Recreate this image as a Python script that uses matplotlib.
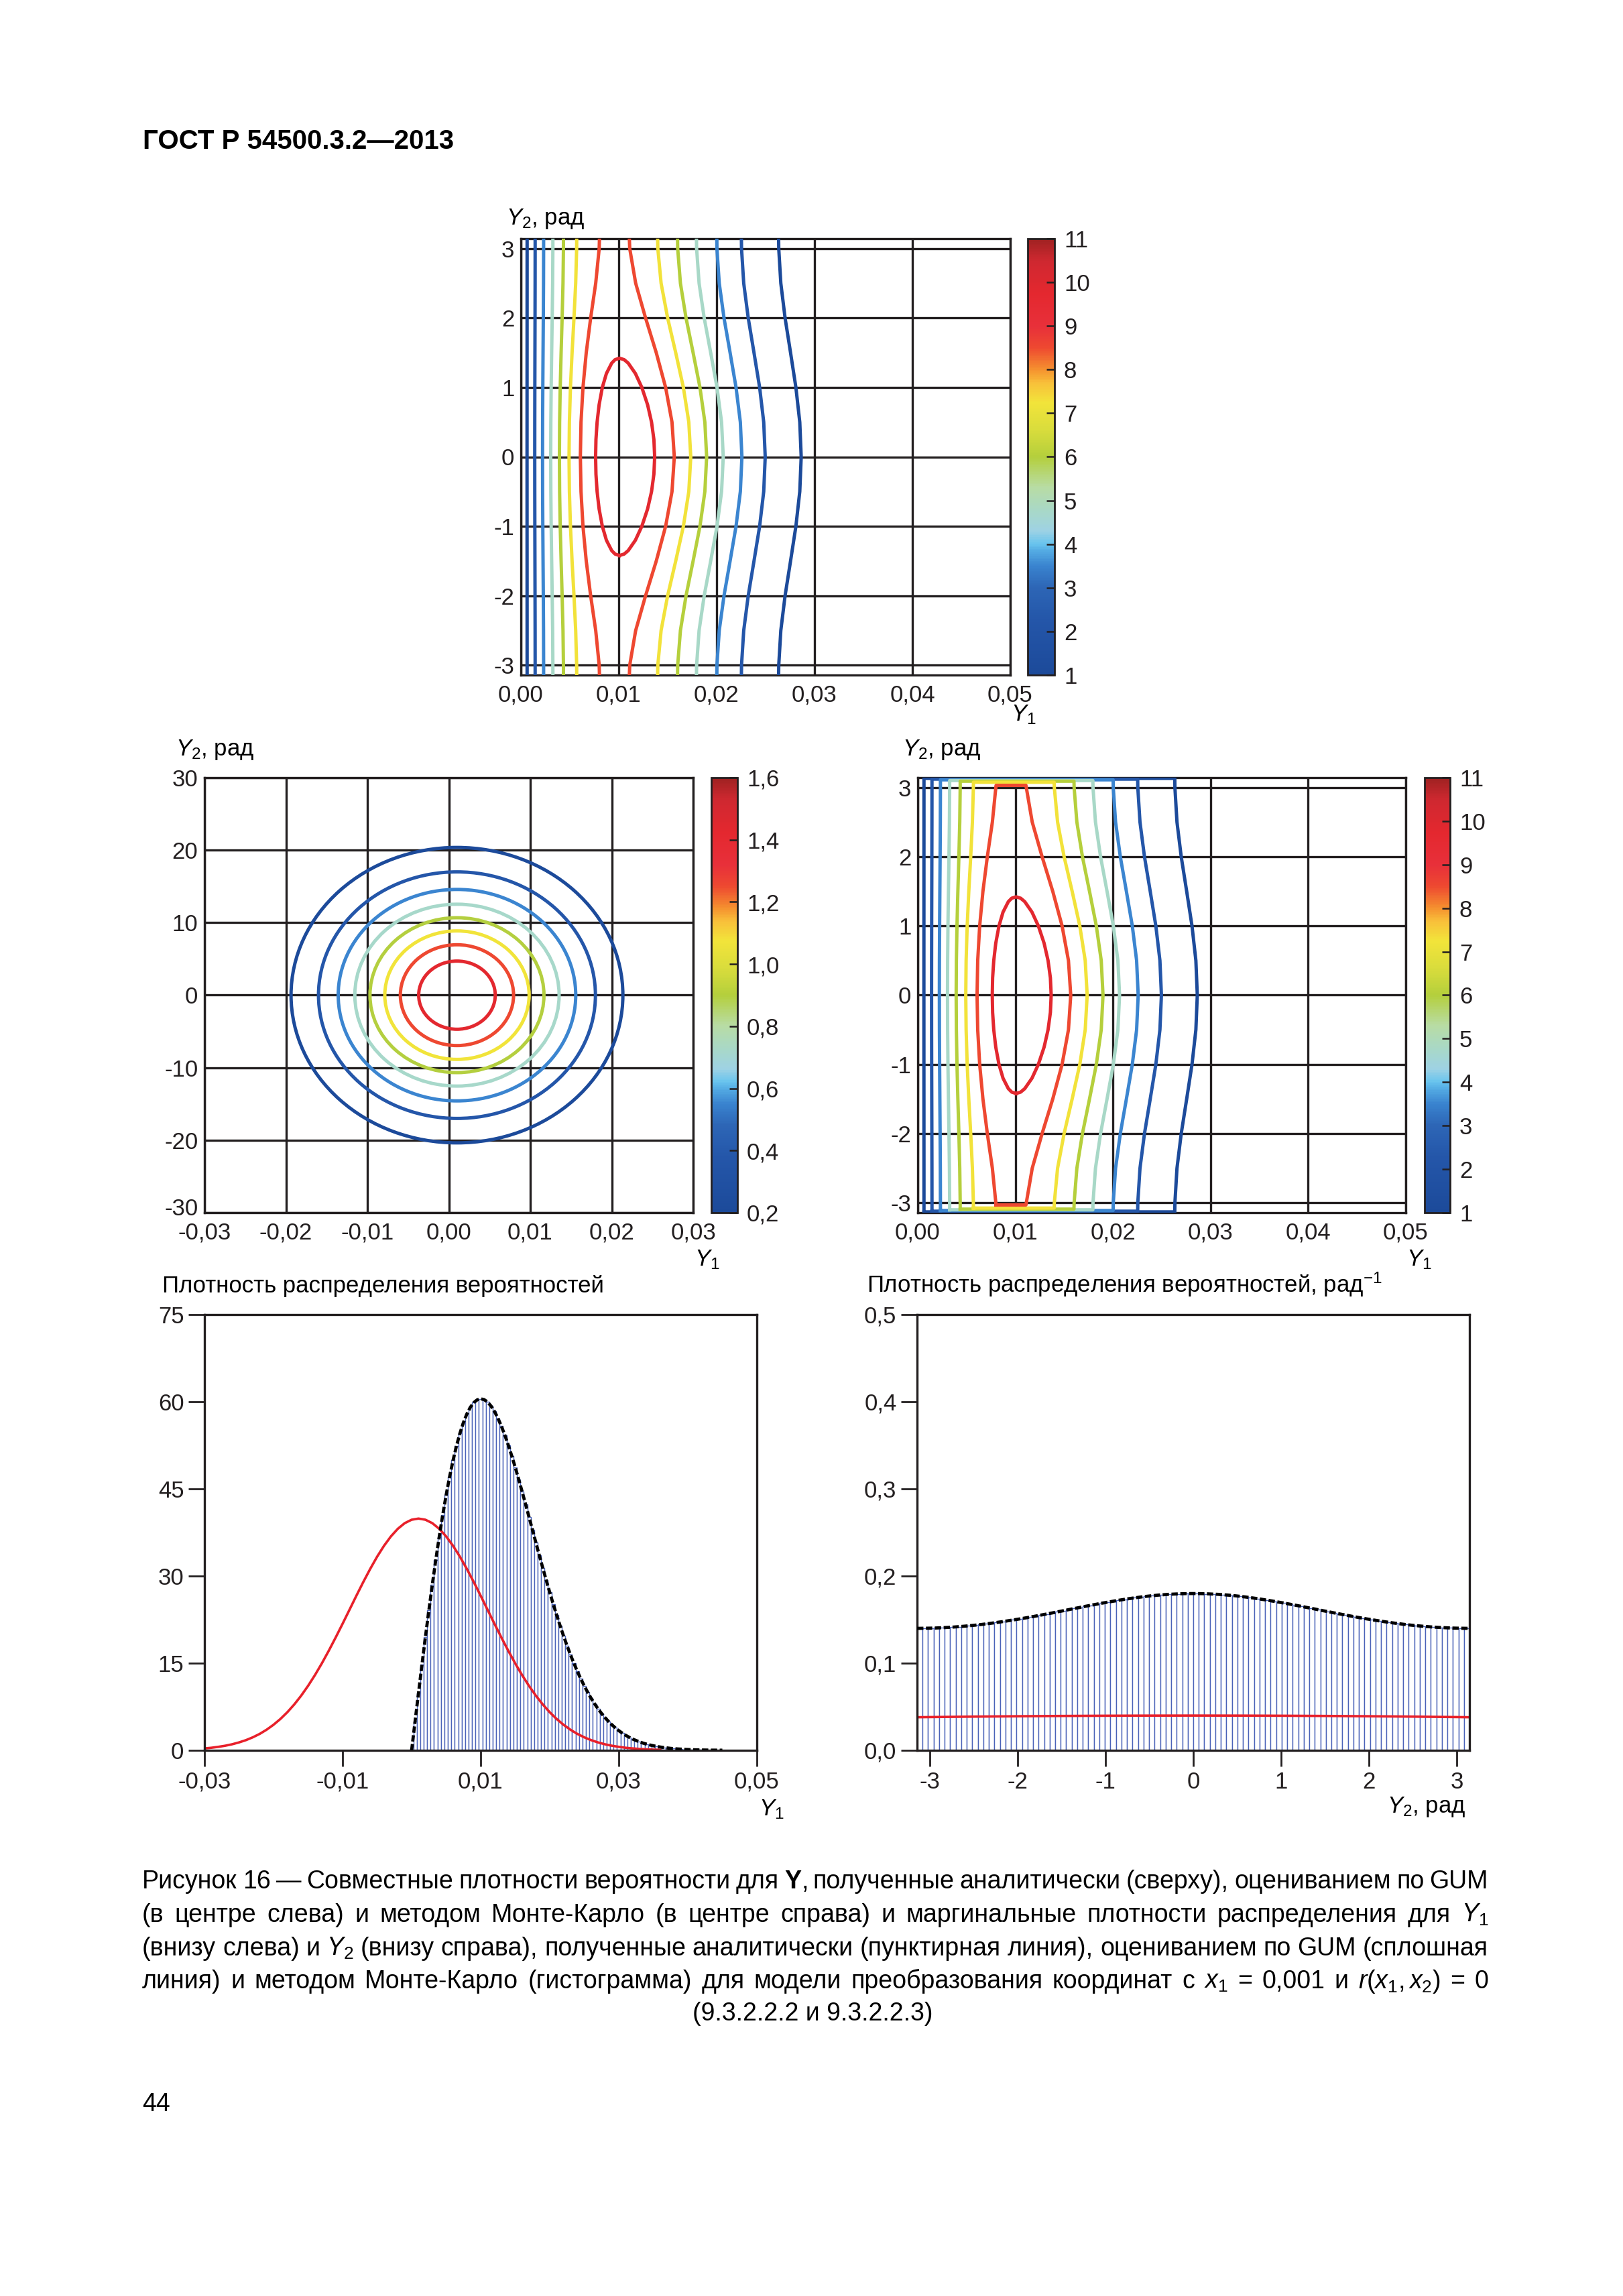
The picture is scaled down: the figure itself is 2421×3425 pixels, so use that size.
import numpy as np
import matplotlib
matplotlib.use("Agg")
import matplotlib.pyplot as plt
import matplotlib.transforms as mtransforms
from matplotlib.colors import LinearSegmentedColormap, Normalize
from matplotlib.cm import ScalarMappable
from matplotlib.patches import Ellipse

plt.rcParams['font.family'] = ['Liberation Sans', 'DejaVu Sans']
plt.rcParams['mathtext.fontset'] = 'custom'
plt.rcParams['mathtext.rm'] = 'Liberation Sans'
plt.rcParams['mathtext.it'] = 'Liberation Sans:italic'
plt.rcParams['mathtext.bf'] = 'Liberation Sans:bold'

W, H = 2421, 3425
INK = '#231f20'

# ---------------- data read from the page ----------------
# joint analytic pdf (top) and Monte Carlo pdf (middle right): contour lines Y1(Y2) for Y2 >= 0
theta_half = [0.0, 0.5, 1.0, 1.5, 2.0, 2.5, 3.0, 3.1416]
levels_top = [1.0, 2.25, 3.5, 4.75, 6.0, 7.25, 8.5]
left_x = [
    [0.000629, 0.000630, 0.000631, 0.000633, 0.000634, 0.000636, 0.000637, 0.000637],
    [0.001415, 0.001418, 0.001425, 0.001435, 0.001445, 0.001453, 0.001457, 0.001457],
    [0.002214, 0.002220, 0.002239, 0.002264, 0.002291, 0.002312, 0.002322, 0.002323],
    [0.003048, 0.003060, 0.003094, 0.003144, 0.003199, 0.003245, 0.003268, 0.003269],
    [0.003936, 0.003957, 0.004019, 0.004110, 0.004214, 0.004302, 0.004348, 0.004350],
    [0.004919, 0.004956, 0.005064, 0.005230, 0.005425, 0.005599, 0.005698, 0.005703],
    [0.006076, 0.006143, 0.006344, 0.006678, 0.007129, 0.007645, 0.008000, 0.008027],
]
right_x = [
    [0.028639, 0.028494, 0.028097, 0.027551, 0.026992, 0.026557, 0.026345, 0.026333],
    [0.024963, 0.024810, 0.024392, 0.023816, 0.023227, 0.022767, 0.022543, 0.022531],
    [0.022583, 0.022422, 0.021981, 0.021374, 0.020752, 0.020266, 0.020029, 0.020017],
    [0.020675, 0.020504, 0.020037, 0.019391, 0.018728, 0.018207, 0.017953, 0.017940],
    [0.018979, 0.018797, 0.018294, 0.017595, 0.016872, 0.016300, 0.016020, 0.016005],
    [0.017357, 0.017156, 0.016601, 0.015818, 0.014993, 0.014325, 0.013990, 0.013972],
    [0.015674, 0.015439, 0.014787, 0.013830, 0.012737, 0.011727, 0.011120, 0.011082],
]
inner_level = 9.75
inner_theta = [0.0, 0.25, 0.5, 0.75, 1.0, 1.2, 1.35, 1.40, 1.42]
inner_left = [0.007634, 0.007670, 0.007787, 0.007992, 0.008322, 0.008738, 0.009280, 0.009627, 0.010075]
inner_right = [0.013669, 0.013589, 0.013349, 0.012945, 0.012355, 0.011700, 0.010963, 0.010543, 0.010075]
mc_close = [3.13, 3.12, 3.11, 3.10, 3.09, 3.075, 3.03]

# GUM joint pdf (middle left): ellipses, radii in standard uncertainties
gum_center = (0.001, 0.0)
gum_u = (0.01, 10.0)
gum_levels = [0.2, 0.375, 0.55, 0.725, 0.9, 1.075, 1.25, 1.425]
gum_rho = [2.037, 1.700, 1.458, 1.254, 1.068, 0.886, 0.695, 0.470]

# marginal pdf of Y1 (bottom left)
y1_grid = np.round(np.arange(0, 0.04501, 0.0005), 4)
y1_pdf = [0.00, 4.97, 9.90, 14.76, 19.50, 24.11, 28.54, 32.77, 36.75, 40.48,
          43.93, 47.08, 49.91, 52.41, 54.58, 56.41, 57.89, 59.04, 59.85, 60.33,
          60.50, 60.37, 59.95, 59.26, 58.33, 57.16, 55.79, 54.25, 52.53, 50.69,
          48.73, 46.67, 44.55, 42.37, 40.17, 37.95, 35.73, 33.53, 31.37, 29.26,
          27.20, 25.21, 23.29, 21.46, 19.70, 18.04, 16.46, 14.99, 13.60, 12.30,
          11.10, 9.99, 8.95, 8.01, 7.14, 6.36, 5.64, 4.99, 4.40, 3.87,
          3.39, 2.97, 2.59, 2.25, 1.95, 1.69, 1.46, 1.25, 1.08, 0.92,
          0.79, 0.67, 0.57, 0.48, 0.41, 0.34, 0.29, 0.24, 0.21, 0.17,
          0.14, 0.11, 0.09, 0.07, 0.06, 0.05, 0.04, 0.03, 0.03, 0.02, 0.02]
y1_gum_x = np.round(np.arange(-0.030, 0.0365, 0.001), 3)
y1_gum = [0.33, 0.44, 0.60, 0.79, 1.04, 1.36, 1.75, 2.24, 2.83, 3.55,
          4.40, 5.40, 6.56, 7.89, 9.40, 11.09, 12.95, 14.97, 17.14, 19.42,
          21.78, 24.19, 26.61, 28.97, 31.22, 33.32, 35.20, 36.82, 38.13, 39.10,
          39.69, 39.89, 39.69, 39.10, 38.13, 36.82, 35.20, 33.32, 31.22, 28.97,
          26.61, 24.19, 21.78, 19.42, 17.14, 14.97, 12.95, 11.09, 9.40, 7.89,
          6.56, 5.40, 4.40, 3.55, 2.83, 2.24, 1.75, 1.36, 1.04, 0.79,
          0.60, 0.44, 0.33, 0.24, 0.17, 0.12, 0.09]

# marginal pdf of Y2 (bottom right), 100 histogram bins, right half listed
y2_half = [0.1799, 0.1798, 0.1796, 0.1793, 0.1790, 0.1785, 0.1780, 0.1774, 0.1767, 0.1759,
           0.1751, 0.1742, 0.1732, 0.1722, 0.1711, 0.1700, 0.1689, 0.1677, 0.1665, 0.1653,
           0.1640, 0.1628, 0.1615, 0.1602, 0.1590, 0.1577, 0.1565, 0.1553, 0.1541, 0.1529,
           0.1518, 0.1507, 0.1497, 0.1487, 0.1477, 0.1468, 0.1459, 0.1451, 0.1443, 0.1436,
           0.1430, 0.1424, 0.1419, 0.1414, 0.1410, 0.1407, 0.1404, 0.1402, 0.1401, 0.1400]
y2_pdf = y2_half[::-1] + y2_half
y2_centers = np.linspace(-np.pi + np.pi / 100, np.pi - np.pi / 100, 100)
y2_gum_x = [-3.1416, -3.0, -2.5, -2.0, -1.5, -1.0, -0.5, 0.0, 0.5, 1.0, 1.5, 2.0, 2.5, 3.0, 3.1416]
y2_gum = [0.03797, 0.03814, 0.03867, 0.03910, 0.03945, 0.03970, 0.03984, 0.03989,
          0.03984, 0.03970, 0.03945, 0.03910, 0.03867, 0.03814, 0.03797]

# tick labels
t01_ticks = [0.0, 0.01, 0.02, 0.03, 0.04, 0.05]
t01_labels = ['0,00', '0,01', '0,02', '0,03', '0,04', '0,05']
rad_ticks = [-3, -2, -1, 0, 1, 2, 3]
rad_labels = ['-3', '-2', '-1', '0', '1', '2', '3']
gx_ticks = [-0.03, -0.02, -0.01, 0.0, 0.01, 0.02, 0.03]
gx_labels = ['-0,03', '-0,02', '-0,01', '0,00', '0,01', '0,02', '0,03']
gy_ticks = [-30, -20, -10, 0, 10, 20, 30]
gy_labels = ['-30', '-20', '-10', '0', '10', '20', '30']
cb_ticks = list(range(1, 12))
cb_labels = [str(v) for v in cb_ticks]
gcb_ticks = [0.2, 0.4, 0.6, 0.8, 1.0, 1.2, 1.4, 1.6]
gcb_labels = ['0,2', '0,4', '0,6', '0,8', '1,0', '1,2', '1,4', '1,6']
m1x_ticks = [-0.03, -0.01, 0.01, 0.03, 0.05]
m1x_labels = ['-0,03', '-0,01', '0,01', '0,03', '0,05']
m1y_ticks = [0, 15, 30, 45, 60, 75]
m1y_labels = ['0', '15', '30', '45', '60', '75']
m2y_ticks = [0.0, 0.1, 0.2, 0.3, 0.4, 0.5]
m2y_labels = ['0,0', '0,1', '0,2', '0,3', '0,4', '0,5']

cmap = LinearSegmentedColormap.from_list('gost', [
    (0.00, '#1c4a9a'), (0.125, '#2456a9'), (0.20, '#2d66b6'), (0.25, '#3a84cf'),
    (0.285, '#55ade4'), (0.30, '#68c4ee'), (0.33, '#9ed2e4'), (0.375, '#a8d8c8'),
    (0.43, '#b8dca4'), (0.50, '#b4cf3c'), (0.56, '#d8dc3c'), (0.625, '#f2e43a'),
    (0.67, '#f8c03a'), (0.70, '#f5922f'), (0.75, '#ee4a30'), (0.80, '#e8303a'),
    (0.875, '#e4282f'), (0.95, '#cf2830'), (1.00, '#a02222')])

FS = 25
LW = 3.6
fig = plt.figure(figsize=(W / 100, H / 100), dpi=100)


def place(x0, y0, x1, y1):
    return fig.add_axes([x0 / W, 1 - y1 / H, (x1 - x0) / W, (y1 - y0) / H])


def ftext(x, y, s, **kw):
    kw.setdefault('fontsize', FS)
    kw.setdefault('va', 'baseline')
    return fig.text(x / W, 1 - y / H, s, **kw)


def mirror(theta, xs):
    y = [-t for t in theta[::-1]] + list(theta[1:])
    x = list(xs[::-1]) + list(xs[1:])
    return x, y


def grid_axes(ax, xlim, ylim, xt, xl, yt, yl):
    ax.set_xlim(xlim)
    ax.set_ylim(ylim)
    ax.set_xticks(xt)
    ax.set_xticklabels(xl)
    ax.set_yticks(yt)
    ax.set_yticklabels(yl)
    ax.tick_params(length=0, pad=7, labelsize=FS, colors=INK)
    ax.tick_params(axis='x', pad=10)
    ax.grid(True, color=INK, lw=2.4)
    ax.set_axisbelow(True)
    for s in ax.spines.values():
        s.set_linewidth(2.4)
        s.set_color(INK)


def add_cbar(cax, vmin, vmax, ticks, labels):
    sm = ScalarMappable(norm=Normalize(vmin, vmax), cmap=cmap)
    cb = fig.colorbar(sm, cax=cax)
    cb.set_ticks(ticks)
    cb.set_ticklabels(labels)
    cb.ax.tick_params(direction='in', length=9, width=1.8, labelsize=FS, pad=10, colors=INK)
    cb.outline.set_linewidth(2)
    cb.outline.set_edgecolor(INK)


def marg_axes(ax, xlim, ylim, xt, xl, yt, yl):
    ax.set_xlim(xlim)
    ax.set_ylim(ylim)
    ax.set_xticks(xt)
    ax.set_xticklabels(xl)
    ax.set_yticks(yt)
    ax.set_yticklabels(yl)
    ax.tick_params(direction='out', length=17, width=2, pad=5, labelsize=FS, colors=INK)
    for s in ax.spines.values():
        s.set_linewidth(2.4)
        s.set_color(INK)


def raise_label(lab, px):
    lab.set_transform(lab.get_transform() +
                      mtransforms.ScaledTranslation(0, px / 100, fig.dpi_scale_trans))


norm_top = Normalize(1, 11)
norm_gum = Normalize(0.2, 1.6)

# ---------------- top: analytic joint pdf ----------------
ax = place(777, 356, 1507, 1007)
grid_axes(ax, (0, 0.05), (-np.pi, np.pi), t01_ticks, t01_labels, rad_ticks, rad_labels)
for L, xl, xr in zip(levels_top, left_x, right_x):
    c = cmap(norm_top(L))
    ax.plot(*mirror(theta_half, xl), color=c, lw=LW, zorder=3)
    ax.plot(*mirror(theta_half, xr), color=c, lw=LW, zorder=3)
rx, ry = mirror(inner_theta, inner_right)
lx, ly = mirror(inner_theta, inner_left)
ax.plot(rx + lx[::-1], ry + ly[::-1], color=cmap(norm_top(inner_level)), lw=LW, zorder=3)
add_cbar(place(1533, 356, 1573, 1007), 1, 11, cb_ticks, cb_labels)
ftext(755, 335, '$Y_2$, рад')
ftext(1508, 1075, '$Y_1$')

# ---------------- middle left: GUM joint pdf ----------------
ax = place(305, 1160, 1034, 1809)
grid_axes(ax, (-0.03, 0.03), (-30, 30), gx_ticks, gx_labels, gy_ticks, gy_labels)
raise_label(ax.get_yticklabels()[0], 9)
for L, rho in zip(gum_levels, gum_rho):
    ax.add_patch(Ellipse(gum_center, 2 * rho * gum_u[0], 2 * rho * gum_u[1], fill=False,
                         edgecolor=cmap(norm_gum(L)), lw=LW, zorder=3))
add_cbar(place(1061, 1160, 1100, 1809), 0.2, 1.6, gcb_ticks, gcb_labels)
ftext(262, 1127, '$Y_2$, рад')
ftext(1036, 1888, '$Y_1$')

# ---------------- middle right: Monte Carlo joint pdf ----------------
ax = place(1369, 1160, 2097, 1809)
grid_axes(ax, (0, 0.05), (-np.pi, np.pi), t01_ticks, t01_labels, rad_ticks, rad_labels)
for L, xl, xr, yc in zip(levels_top, left_x, right_x, mc_close):
    lx, ly = mirror(theta_half[:-1], xl[:-1])
    rx, ry = mirror(theta_half[:-1], xr[:-1])
    xs = [xl[-1]] + lx + [xl[-1], xr[-1]] + rx[::-1] + [xr[-1], xl[-1]]
    ys = [-yc] + ly + [yc, yc] + ry[::-1] + [-yc, -yc]
    ax.plot(xs, ys, color=cmap(norm_top(L)), lw=LW, zorder=3)
rx, ry = mirror(inner_theta, inner_right)
lx, ly = mirror(inner_theta, inner_left)
ax.plot(rx + lx[::-1], ry + ly[::-1], color=cmap(norm_top(inner_level)), lw=LW, zorder=3)
add_cbar(place(2125, 1160, 2163, 1809), 1, 11, cb_ticks, cb_labels)
ftext(1346, 1127, '$Y_2$, рад')
ftext(2098, 1888, '$Y_1$')

# ---------------- bottom left: marginal of Y1 ----------------
ax = place(305, 1961, 1129, 2611)
marg_axes(ax, (-0.03, 0.05), (0, 75), m1x_ticks, m1x_labels, m1y_ticks, m1y_labels)
ax.bar(y1_grid, y1_pdf, width=0.0005, facecolor='white', edgecolor='#4a62b8', lw=1.0, zorder=1)
ax.plot(y1_gum_x, y1_gum, color='#e8202a', lw=2.6, zorder=2)
ax.plot(y1_grid, y1_pdf, color='k', lw=3.4, dashes=(2.0, 0.8), zorder=3)
ftext(242, 1928, 'Плотность распределения вероятностей')
ftext(1132, 2708, '$Y_1$')

# ---------------- bottom right: marginal of Y2 ----------------
ax = place(1368, 1961, 2192, 2611)
marg_axes(ax, (-np.pi, np.pi), (0, 0.5), rad_ticks, rad_labels, m2y_ticks, m2y_labels)
ax.bar(y2_centers, y2_pdf, width=2 * np.pi / 100, facecolor='white', edgecolor='#4a62b8',
       lw=1.0, zorder=1)
ax.plot(y2_gum_x, y2_gum, color='#e8202a', lw=2.6, zorder=2)
ax.plot([-np.pi] + list(y2_centers) + [np.pi], [y2_pdf[0]] + y2_pdf + [y2_pdf[-1]],
        color='k', lw=3.4, dashes=(2.0, 0.8), zorder=3)
ftext(1293, 1928, 'Плотность распределения вероятностей, рад$^{-1}$')
ftext(2186, 2704, '$Y_2$, рад', ha='right')

# ---------------- page text ----------------
ftext(213, 222, 'ГОСТ Р 54500.3.2—2013', fontsize=29, fontweight='bold')

caption = [
    ['Рисунок', '16', '—', 'Совместные', 'плотности', 'вероятности', 'для', r'$\mathbf{Y}$,',
     'полученные', 'аналитически', '(сверху),', 'оцениванием', 'по', 'GUM'],
    ['(в', 'центре', 'слева)', 'и', 'методом', 'Монте-Карло', '(в', 'центре', 'справа)', 'и',
     'маргинальные', 'плотности', 'распределения', 'для', '$Y_1$'],
    ['(внизу', 'слева)', 'и', '$Y_2$', '(внизу', 'справа),', 'полученные', 'аналитически',
     '(пунктирная', 'линия),', 'оцениванием', 'по', 'GUM', '(сплошная'],
    ['линия)', 'и', 'методом', 'Монте-Карло', '(гистограмма)', 'для', 'модели', 'преобразования',
     'координат', 'с', '$x_1$', '=', '0,001', 'и', '$r(x_1,x_2)$', '=', '0'],
]
baselines = [2817, 2867, 2917, 2966, 3014]
renderer = fig.canvas.get_renderer()
for words, yb in zip(caption, baselines):
    ts = [ftext(0, yb, w, fontsize=27) for w in words]
    ws = [t.get_window_extent(renderer).width for t in ts]
    gap = (2220 - 212 - sum(ws)) / (len(ws) - 1)
    x = 212
    for t, w in zip(ts, ws):
        t.set_x(x / W)
        x += w + gap
ftext(1212, baselines[4], '(9.3.2.2.2 и 9.3.2.2.3)', fontsize=27, ha='center')
ftext(212, 3149, '44', fontsize=27)

fig.savefig('out.png', dpi=100)
